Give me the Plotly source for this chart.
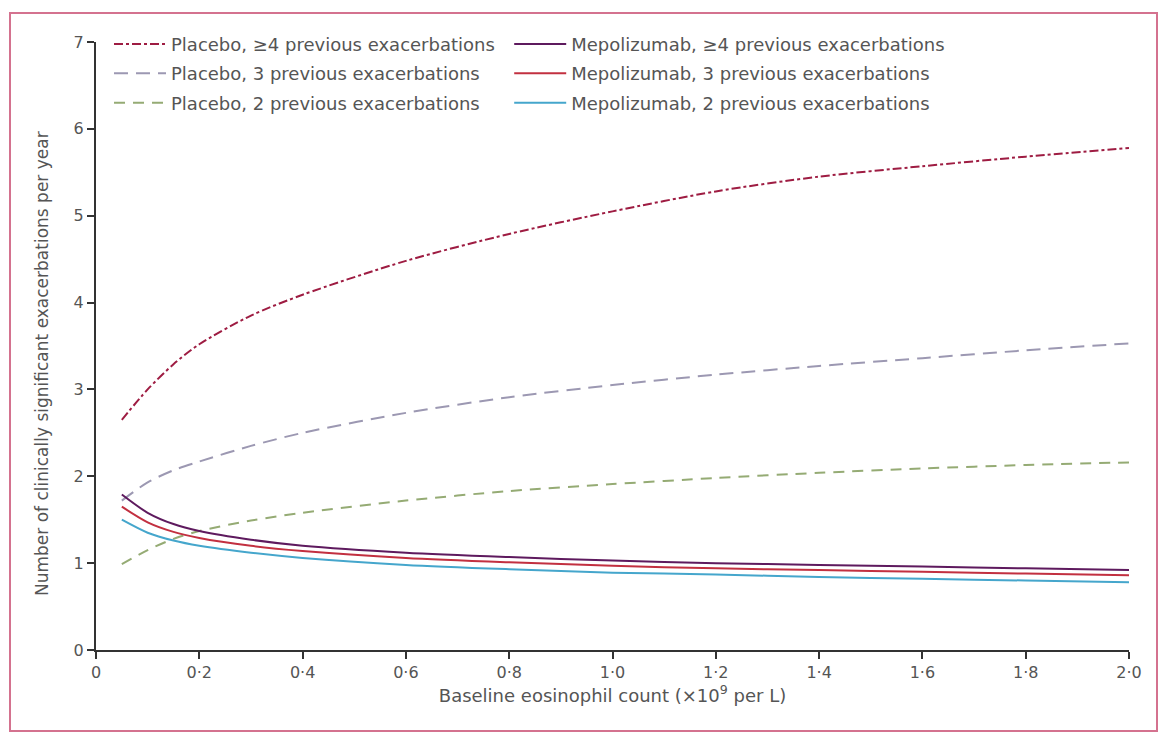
import plotly.graph_objects as go

# Baseline eosinophil count (x10^9 per L)
eos = [0.05, 0.1, 0.15, 0.2, 0.3, 0.4, 0.6, 0.8, 1.0, 1.2, 1.4, 1.6, 1.8, 2.0]

# Modelled rate of clinically significant exacerbations per year
placebo_4 = [2.65, 3.00, 3.29, 3.52, 3.85, 4.09, 4.48, 4.79, 5.05, 5.28, 5.45, 5.57, 5.68, 5.78]
placebo_3 = [1.72, 1.93, 2.07, 2.17, 2.35, 2.50, 2.73, 2.91, 3.05, 3.17, 3.27, 3.36, 3.45, 3.53]
placebo_2 = [0.99, 1.15, 1.28, 1.37, 1.49, 1.58, 1.72, 1.83, 1.91, 1.98, 2.04, 2.09, 2.13, 2.16]
mepo_4 = [1.79, 1.58, 1.45, 1.37, 1.27, 1.20, 1.12, 1.07, 1.03, 1.00, 0.98, 0.96, 0.94, 0.92]
mepo_3 = [1.65, 1.47, 1.36, 1.29, 1.20, 1.14, 1.06, 1.01, 0.97, 0.94, 0.92, 0.90, 0.88, 0.86]
mepo_2 = [1.50, 1.35, 1.26, 1.20, 1.12, 1.06, 0.98, 0.93, 0.89, 0.87, 0.84, 0.82, 0.80, 0.78]

x_tickvals = [0, 0.2, 0.4, 0.6, 0.8, 1.0, 1.2, 1.4, 1.6, 1.8, 2.0]
x_ticktext = ["0", "0·2", "0·4", "0·6", "0·8", "1·0", "1·2", "1·4", "1·6", "1·8", "2·0"]
y_tickvals = [0, 1, 2, 3, 4, 5, 6, 7]

FONT = "DejaVu Sans"
TEXT = "#555555"

fig = go.Figure()

series = [
    ("Placebo, ≥4 previous exacerbations", placebo_4, "#9e1c42", "dashdot", "legend"),
    ("Placebo, 3 previous exacerbations", placebo_3, "#9c98b2", "14px,8px", "legend"),
    ("Placebo, 2 previous exacerbations", placebo_2, "#95ab74", "11px,8px", "legend"),
    ("Mepolizumab, ≥4 previous exacerbations", mepo_4, "#5e1a5e", "solid", "legend2"),
    ("Mepolizumab, 3 previous exacerbations", mepo_3, "#c23040", "solid", "legend2"),
    ("Mepolizumab, 2 previous exacerbations", mepo_2, "#45a6cc", "solid", "legend2"),
]

for i, (name, vals, color, dash, leg) in enumerate(series):
    fig.add_trace(go.Scatter(
        x=eos, y=vals, mode="lines", name=name,
        line=dict(color=color, width=2, dash=dash, shape="spline", smoothing=0.8),
        legend=leg, legendgroup=str(i),
    ))

legend_style = dict(
    font=dict(family=FONT, size=18, color=TEXT),
    bgcolor="rgba(0,0,0,0)",
    itemwidth=52,
    tracegroupgap=3,
    yanchor="top",
    xanchor="left",
)

fig.update_layout(
    width=1163, height=734,
    margin=dict(l=96, r=34, t=42, b=84),
    paper_bgcolor="white",
    plot_bgcolor="white",
    font=dict(family=FONT, color=TEXT),
    legend=dict(x=0.0126, y=1.0267, **legend_style),
    legend2=dict(x=0.40, y=1.0267, **legend_style),
    xaxis=dict(
        range=[0, 2.0],
        tickvals=x_tickvals, ticktext=x_ticktext,
        ticks="outside", ticklen=7, tickwidth=2, tickcolor="#333333",
        showline=True, linecolor="#333333", linewidth=2,
        showgrid=False, zeroline=False,
        tickfont=dict(family=FONT, size=16, color=TEXT),
        title=dict(text="Baseline eosinophil count (×10<sup>9</sup> per L)",
                   font=dict(family=FONT, size=18, color=TEXT), standoff=3),
    ),
    yaxis=dict(
        range=[0, 7],
        tickvals=y_tickvals,
        ticks="outside", ticklen=7, tickwidth=2, tickcolor="#333333",
        showline=True, linecolor="#333333", linewidth=2,
        showgrid=False, zeroline=False,
        tickfont=dict(family=FONT, size=16, color=TEXT),
    ),
)

# Y-axis title, sitting slightly below the plot's vertical centre
fig.add_annotation(
    text="Number of clinically significant exacerbations per year",
    xref="paper", yref="paper",
    x=(42 - 96) / 1033, y=(650 - 364) / 608,
    xanchor="center", yanchor="middle",
    textangle=-90, showarrow=False,
    font=dict(family=FONT, size=17, color=TEXT),
)

# Pink frame around the whole figure
fig.add_shape(
    type="rect", xref="paper", yref="paper",
    x0=(10 - 96) / 1033, x1=(1157 - 96) / 1033,
    y0=-(731 - 650) / 608, y1=1 + (650 - 13 - 608) / 608,
    line=dict(color="#d4728f", width=2), layer="below",
)

fig.write_html("out.html")
